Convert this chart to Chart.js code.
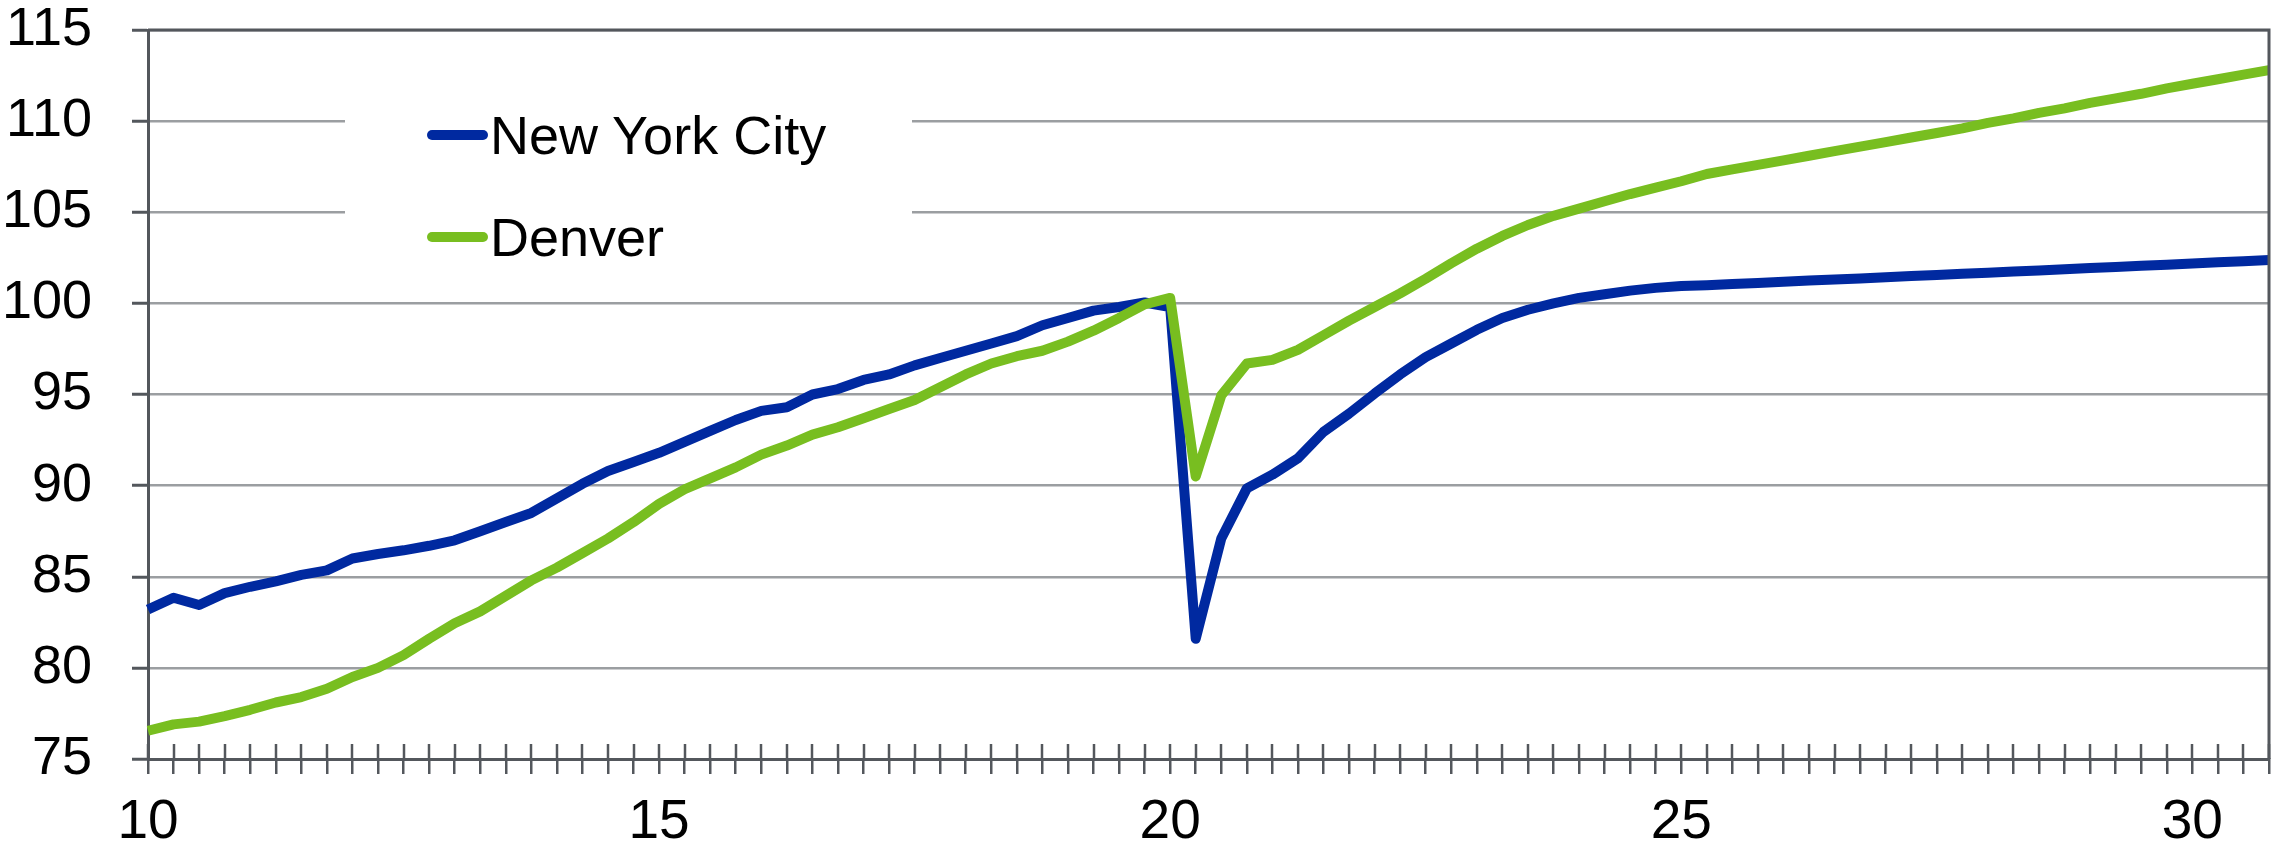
<!DOCTYPE html>
<html>
<head>
<meta charset="utf-8">
<title>New York City vs Denver</title>
<script src="https://cdn.jsdelivr.net/npm/chart.js@4/dist/chart.umd.min.js"></script>
<style>
  html, body { margin: 0; padding: 0; background: #fff; }
  #wrap { position: relative; width: 2287px; height: 845px; }
  #legend {
    position: absolute; left: 345px; top: 88px; width: 567px; height: 190px;
    background: #fff;
    font-family: "Liberation Sans", Arial, sans-serif; font-size: 54px; color: #000;
  }
  .item { position: absolute; left: 82px; height: 60px; display: flex; align-items: center; white-space: nowrap; }
  .swatch { width: 61px; height: 10px; border-radius: 5px; margin-right: 2px; }
</style>
</head>
<body>
<div id="wrap">
  <canvas id="chart" width="2287" height="845"></canvas>
  <div id="legend"></div>
</div>
<script>
// ===== データ（四半期、2010Q1〜2030Q4） =====
var years = [];
for (var y = 10; y <= 30; y++) years.push(y);
var categories = [];
years.forEach(function (yr) {
  for (var q = 1; q <= 4; q++) categories.push(yr + "Q" + q);
});

var tickLabels = ["10", "15", "20", "25", "30"];
var tickEvery = 20; // 5年ごとにラベル

var nyc = [
  83.2, 83.85, 83.45, 84.1, 84.45, 84.75, 85.1, 85.35, 86.0, 86.25,
  86.45, 86.7, 87.0, 87.5, 88.0, 88.5, 89.3, 90.1, 90.8, 91.3,
  91.8, 92.4, 93.0, 93.6, 94.1, 94.3, 95.0, 95.3, 95.8, 96.1,
  96.6, 97.0, 97.4, 97.8, 98.2, 98.8, 99.2, 99.6, 99.8, 100.05,
  99.8, 81.6, 87.1, 89.85, 90.6, 91.5, 92.95, 93.95, 95.05, 96.1,
  97.05, 97.8, 98.55, 99.2, 99.65, 100.0, 100.3, 100.5, 100.7, 100.85,
  100.95, 101.0, 101.06, 101.12, 101.18, 101.25, 101.31, 101.37, 101.43, 101.5,
  101.56, 101.62, 101.68, 101.75, 101.81, 101.87, 101.94, 102.0, 102.06, 102.12,
  102.19, 102.25, 102.31, 102.38
];

var denver = [
  76.55, 76.9, 77.05, 77.35, 77.7, 78.1, 78.4, 78.85, 79.5, 80.0,
  80.7, 81.6, 82.45, 83.1, 83.95, 84.8, 85.5, 86.3, 87.1, 88.0,
  89.0, 89.8, 90.4, 91.0, 91.7, 92.2, 92.8, 93.2, 93.7, 94.2,
  94.7, 95.4, 96.1, 96.7, 97.1, 97.4, 97.9, 98.5, 99.2, 99.95,
  100.3, 90.5, 94.95, 96.7, 96.9, 97.45, 98.25, 99.05, 99.8, 100.55,
  101.35, 102.2, 103.0, 103.7, 104.3, 104.8, 105.2, 105.6, 106.0, 106.35,
  106.7, 107.1, 107.35, 107.6, 107.85, 108.1, 108.35, 108.6, 108.85, 109.1,
  109.35, 109.6, 109.9, 110.15, 110.45, 110.7, 111.0, 111.25, 111.5, 111.8,
  112.05, 112.3, 112.55, 112.8
];

var seriesNames = ["New York City", "Denver"];
var seriesColors = ["#0029a0", "#78be20"];

var FONT = "'Liberation Sans', Arial, sans-serif";
var AXIS = "#53575c";
var GRID = "#9b9ea1";

// ===== 枠線＋内側の目盛り =====
var framePlugin = {
  id: "frame",
  afterDraw: function (chart) {
    var ctx = chart.ctx, a = chart.chartArea, xs = chart.scales.x;
    ctx.save();
    ctx.strokeStyle = AXIS;
    ctx.lineWidth = 3;
    ctx.beginPath();
    ctx.moveTo(a.left, a.top);
    ctx.lineTo(a.right, a.top);
    ctx.lineTo(a.right, a.bottom);
    ctx.stroke();
    // x軸の目盛り（軸の内側部分）
    ctx.lineWidth = 2.5;
    ctx.beginPath();
    for (var i = 0; i < xs.ticks.length; i++) {
      var px = Math.round(xs.getPixelForTick(i));
      ctx.moveTo(px, a.bottom - 15);
      ctx.lineTo(px, a.bottom);
    }
    ctx.stroke();
    ctx.restore();
  }
};

new Chart(document.getElementById("chart"), {
  type: "line",
  data: {
    labels: categories,
    datasets: [
      {
        label: seriesNames[0], data: nyc, order: 1,
        borderColor: seriesColors[0], backgroundColor: seriesColors[0],
        borderWidth: 10, pointRadius: 0, tension: 0,
        borderJoinStyle: "round", borderCapStyle: "butt"
      },
      {
        label: seriesNames[1], data: denver, order: 0,
        borderColor: seriesColors[1], backgroundColor: seriesColors[1],
        borderWidth: 10, pointRadius: 0, tension: 0,
        borderJoinStyle: "round", borderCapStyle: "butt"
      }
    ]
  },
  options: {
    responsive: false,
    animation: false,
    devicePixelRatio: 1,
    layout: { padding: { top: 30, right: 18, left: 0, bottom: 0 } },
    plugins: { legend: { display: false }, tooltip: { enabled: false } },
    scales: {
      x: {
        offset: false,
        afterFit: function (s) { s.height = 86; s.paddingLeft = 0; s.paddingRight = 0; },
        grid: { drawOnChartArea: false, drawTicks: true, tickLength: 15, color: AXIS, lineWidth: 2.5 },
        border: { display: true, color: AXIS, width: 3 },
        ticks: {
          autoSkip: false, maxRotation: 0, padding: 16,
          color: "#000", font: { family: FONT, size: 55 },
          callback: function (v, i) { return i % tickEvery === 0 ? tickLabels[i / tickEvery] : ""; }
        }
      },
      y: {
        min: 75, max: 115,
        afterFit: function (s) { s.width = 148; s.paddingTop = 0; s.paddingBottom = 0; },
        grid: { color: GRID, lineWidth: 2.5, tickLength: 16, tickColor: AXIS, tickWidth: 3 },
        border: { display: true, color: AXIS, width: 3 },
        ticks: {
          stepSize: 5, padding: 40,
          color: "#000", font: { family: FONT, size: 54, lineHeight: 1 }
        }
      }
    }
  },
  plugins: [framePlugin]
});

// ===== 凡例 =====
(function () {
  var box = document.getElementById("legend");
  var tops = [17, 119];
  seriesNames.forEach(function (name, i) {
    var item = document.createElement("div");
    item.className = "item";
    item.style.top = tops[i] + "px";
    var sw = document.createElement("span");
    sw.className = "swatch";
    sw.style.background = seriesColors[i];
    var tx = document.createElement("span");
    tx.textContent = name;
    item.appendChild(sw);
    item.appendChild(tx);
    box.appendChild(item);
  });
})();
</script>
</body>
</html>
